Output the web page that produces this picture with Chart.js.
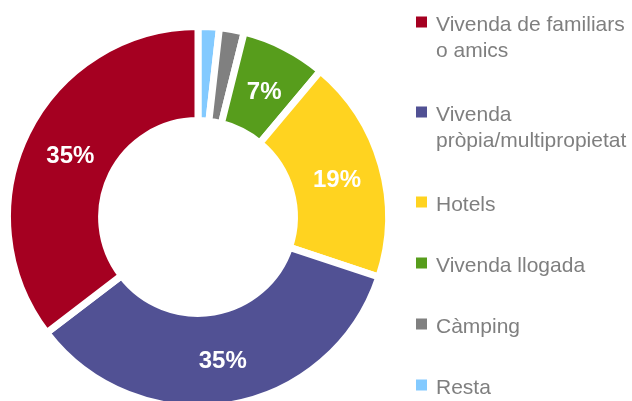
<!DOCTYPE html>
<html>
<head>
<meta charset="utf-8">
<script src="https://cdn.jsdelivr.net/npm/chart.js@4/dist/chart.umd.min.js"></script>
<style>
  html, body { margin: 0; padding: 0; background: #ffffff; overflow: hidden; }
  #wrap { position: relative; width: 632px; height: 420px; }
</style>
</head>
<body>
<div id="wrap"><canvas id="c"></canvas></div>
<script>
// Data in legend order
const categories = [
  ['Vivenda de familiars', 'o amics'],
  ['Vivenda', 'pròpia/multipropietat'],
  ['Hotels'],
  ['Vivenda llogada'],
  ['Càmping'],
  ['Resta']
];
const values = [35.4, 34.5, 19.0, 7.2, 2.1, 1.8];
const colors = ['#A50021', '#515194', '#FFD320', '#579D1C', '#808080', '#83CAFF'];

// The slices run counter-clockwise in legend order, so feed them reversed (clockwise from top)
const chartLabels = categories.slice().reverse();
const chartValues = values.slice().reverse();
const chartColors = colors.slice().reverse();

const sliceLabels = {
  id: 'sliceLabels',
  afterDatasetsDraw(chart) {
    const ctx = chart.ctx;
    const meta = chart.getDatasetMeta(0);
    const data = chart.data.datasets[0].data;
    ctx.save();
    ctx.fillStyle = '#ffffff';
    ctx.font = 'bold 24px "Liberation Sans", Arial, sans-serif';
    ctx.textAlign = 'center';
    ctx.textBaseline = 'middle';
    meta.data.forEach((arc, i) => {
      if (data[i] < 5) return;
      const p = arc.getCenterPoint();
      ctx.fillText(Math.round(data[i]) + '%', p.x + 1, p.y + 3);
    });
    ctx.restore();
  }
};

const sideLegend = {
  id: 'sideLegend',
  afterDraw(chart) {
    const ctx = chart.ctx;
    ctx.save();
    ctx.font = '21px "Liberation Sans", Arial, sans-serif';
    ctx.textAlign = 'left';
    ctx.textBaseline = 'alphabetic';
    let y = 30.5;
    categories.forEach((lines, i) => {
      ctx.fillStyle = colors[i];
      ctx.fillRect(416, y - 14, 11, 11);
      ctx.fillStyle = '#7F7F7F';
      lines.forEach((t, j) => {
        ctx.fillText(t, 436, y + j * 26.5);
      });
      y += 61 + 29 * (lines.length - 1);
    });
    ctx.restore();
  }
};

new Chart(document.getElementById('c'), {
  type: 'doughnut',
  data: {
    labels: chartLabels,
    datasets: [{
      data: chartValues,
      backgroundColor: chartColors,
      borderColor: '#ffffff',
      borderWidth: 7,
      hoverOffset: 0
    }]
  },
  options: {
    responsive: true,
    maintainAspectRatio: false,
    animation: false,
    cutout: '50.6%',
    rotation: 0,
    layout: { padding: { left: 4, right: 240, top: 22, bottom: 8 } },
    plugins: {
      legend: { display: false },
      tooltip: { enabled: false }
    }
  },
  plugins: [sliceLabels, sideLegend]
});
</script>
</body>
</html>
